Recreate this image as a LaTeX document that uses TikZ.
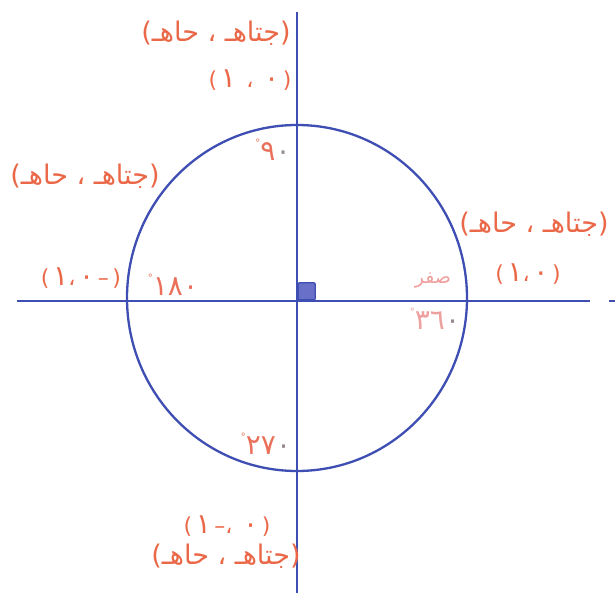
\documentclass[tikz,border=0pt]{standalone}
\usepackage{fontspec}
\TeXXeTstate=1
\newfontfamily\arabicfont[Script=Arabic]{DejaVu Sans}
\newfontfamily\digitfont{DejaVu Sans}
\definecolor{axisblue}{RGB}{62,78,178}
\definecolor{sqfill}{RGB}{105,112,200}
\definecolor{lblorange}{RGB}{234,104,72}
\definecolor{lblsalmon}{RGB}{234,112,90}
\definecolor{lblpink}{RGB}{238,160,158}
\definecolor{zerogrey}{RGB}{150,140,140}
\newcommand{\degmark}{\raisebox{0.5em}{\fontsize{10}{10}\selectfont\digitfont °}}
\newcommand{\bigdig}[1]{{\fontsize{28}{30}\selectfont #1}}
\begin{document}
\begin{tikzpicture}[x=1pt,y=-1pt,
  axisline/.style={draw=axisblue, line width=2.3pt},
  wordlabel/.style={text=lblorange, font=\arabicfont\fontsize{27}{30}\selectfont, inner sep=0pt},
  numlabel/.style={text=lblorange, font=\digitfont\fontsize{22}{26}\selectfont, inner sep=0pt},
  deglabel/.style={text=lblsalmon, font=\digitfont\fontsize{28}{30}\selectfont, inner sep=0pt}]
\useasboundingbox (0,0) rectangle (615,593);
\fill[white] (0,0) rectangle (615,593);
% axes
\coordinate (hl) at (17,301);
\coordinate (hr) at (590,301);
\coordinate (vt) at (297,12);
\coordinate (vb) at (297,593);
\coordinate (tl) at (609,301);
\coordinate (tr) at (615,301);
\coordinate (O) at (297,298);
\draw[axisline] (hl) -- (hr);
\draw[axisline] (vt) -- (vb);
\draw[axisline, line width=1.5pt] (tl) -- (tr);
\draw[axisline] (O) ellipse [x radius=170pt, y radius=173pt];
\node[draw=axisblue, fill=sqfill, line width=1.3pt, rounded corners=1pt, minimum size=17pt, inner sep=0pt, anchor=south west] (sq) at (297.5,300.5) {};
% labels
\node[wordlabel] (wTop) at (216,33) {\beginR (جتاهـ ، حاهـ)\endR};
\node[numlabel] (nTop) at (250,80) {(\,\bigdig{١}\, ، \,\bigdig{٠}\,)};
\node[deglabel] (d90) at (273,150) {\degmark ٩\textcolor{zerogrey}{٠}};
\node[wordlabel] (wLeft) at (85,176) {\beginR (جتاهـ ، حاهـ)\endR};
\node[numlabel] (nLeft) at (81,278) {(\,\bigdig{١}،\,\bigdig{٠}\,–\,)};
\node[deglabel] (d180) at (173,285) {\degmark ١٨٠};
\node[wordlabel] (wRight) at (534,224) {\beginR (جتاهـ ، حاهـ)\endR};
\node[numlabel] (nRight) at (528,274) {(\,\bigdig{١}،\,\bigdig{٠}\,)};
\node[text=lblpink, font=\arabicfont\fontsize{19}{22}\selectfont, inner sep=0pt] (zero) at (433,280) {\beginR صفر\endR};
\node[deglabel, text=lblpink] (d360) at (435,319) {\degmark ٣٦\textcolor{zerogrey}{٠}};
\node[deglabel] (d270) at (266,444) {\degmark ٢٧\textcolor{zerogrey}{٠}};
\node[numlabel] (nBottom) at (227,526) {(\,\bigdig{١}\,–، \,\bigdig{٠}\,)};
\node[wordlabel] (wBottom) at (226,556) {\beginR (جتاهـ ، حاهـ)\endR};
\end{tikzpicture}
\end{document}
